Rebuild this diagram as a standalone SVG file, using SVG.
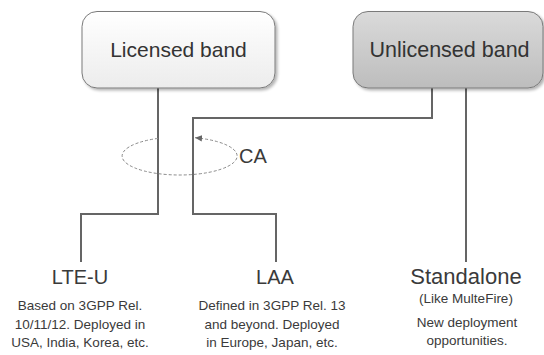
<svg xmlns="http://www.w3.org/2000/svg" width="544" height="355" viewBox="0 0 544 355">
<defs>
<linearGradient id="gLic" x1="0" y1="0" x2="0" y2="1">
<stop offset="0" stop-color="#ffffff"/><stop offset="1" stop-color="#ececec"/>
</linearGradient>
<linearGradient id="gUnl" x1="0" y1="0" x2="0" y2="1">
<stop offset="0" stop-color="#dadada"/><stop offset="1" stop-color="#bdbdbd"/>
</linearGradient>
<filter id="sh" x="-10%" y="-10%" width="125%" height="130%">
<feGaussianBlur in="SourceAlpha" stdDeviation="1.5"/>
<feOffset dx="1.5" dy="2" result="o"/>
<feComponentTransfer><feFuncA type="linear" slope="0.3"/></feComponentTransfer>
<feMerge><feMergeNode/><feMergeNode in="SourceGraphic"/></feMerge>
</filter>
<marker id="arr" markerWidth="8" markerHeight="8" refX="7" refY="4" orient="auto" markerUnits="userSpaceOnUse">
<path d="M0,0.8 L7,4 L0,7.2 Z" fill="#666"/>
</marker>
</defs>
<style>
.box{stroke:#7a7a7a;stroke-width:1}
.lbl{font-family:"Liberation Sans",Arial,sans-serif;fill:#333;text-anchor:middle}
.title{font-size:21px}
.head{font-size:20px;fill:#3a3a3a}
.desc{font-size:13.5px;fill:#3a3a3a}
.conn{fill:none;stroke:#656565;stroke-width:2}
.ca{fill:none;stroke:#8a8a8a;stroke-width:1;stroke-dasharray:3,2}
</style>
<rect width="544" height="355" fill="#fff"/>
<g id="connectors">
<path class="conn" d="M158,88 V214 H81 V262"/>
<path class="conn" d="M432,88 V118 H193 V214 H276 V262"/>
<path class="conn" d="M466,88 V262"/>
<path class="ca" d="M158,138.4 A57.5,19 0 1 0 195,137.7" marker-end="url(#arr)"/>
</g>
<g id="licensed">
<rect class="box" x="82" y="11.5" width="193" height="76.5" rx="15" fill="url(#gLic)" filter="url(#sh)"/>
<text class="lbl title" x="178.5" y="57">Licensed band</text>
</g>
<g id="unlicensed">
<rect class="box" x="353" y="11.5" width="190" height="76.5" rx="15" fill="url(#gUnl)" filter="url(#sh)"/>
<text class="lbl title" x="449.5" y="57" style="font-size:21.5px">Unlicensed band</text>
</g>
<g id="ca-label">
<text class="lbl head" x="253" y="163">CA</text>
</g>
<g id="lteu">
<text class="lbl head" x="80" y="284">LTE-U</text>
<text class="lbl desc" x="80" y="309.5">Based on 3GPP Rel.</text>
<text class="lbl desc" x="80" y="328.5">10/11/12. Deployed in</text>
<text class="lbl desc" x="80" y="347">USA, India, Korea, etc.</text>
</g>
<g id="laa">
<text class="lbl head" x="275" y="284">LAA</text>
<text class="lbl desc" x="272" y="309.5">Defined in 3GPP Rel. 13</text>
<text class="lbl desc" x="272" y="328.5">and beyond. Deployed</text>
<text class="lbl desc" x="272" y="347">in Europe, Japan, etc.</text>
</g>
<g id="standalone">
<text class="lbl head" x="466" y="284" style="font-size:22px">Standalone</text>
<text class="lbl desc" x="466" y="303">(Like MulteFire)</text>
<text class="lbl desc" x="467" y="327">New deployment</text>
<text class="lbl desc" x="467" y="345">opportunities.</text>
</g>
</svg>
